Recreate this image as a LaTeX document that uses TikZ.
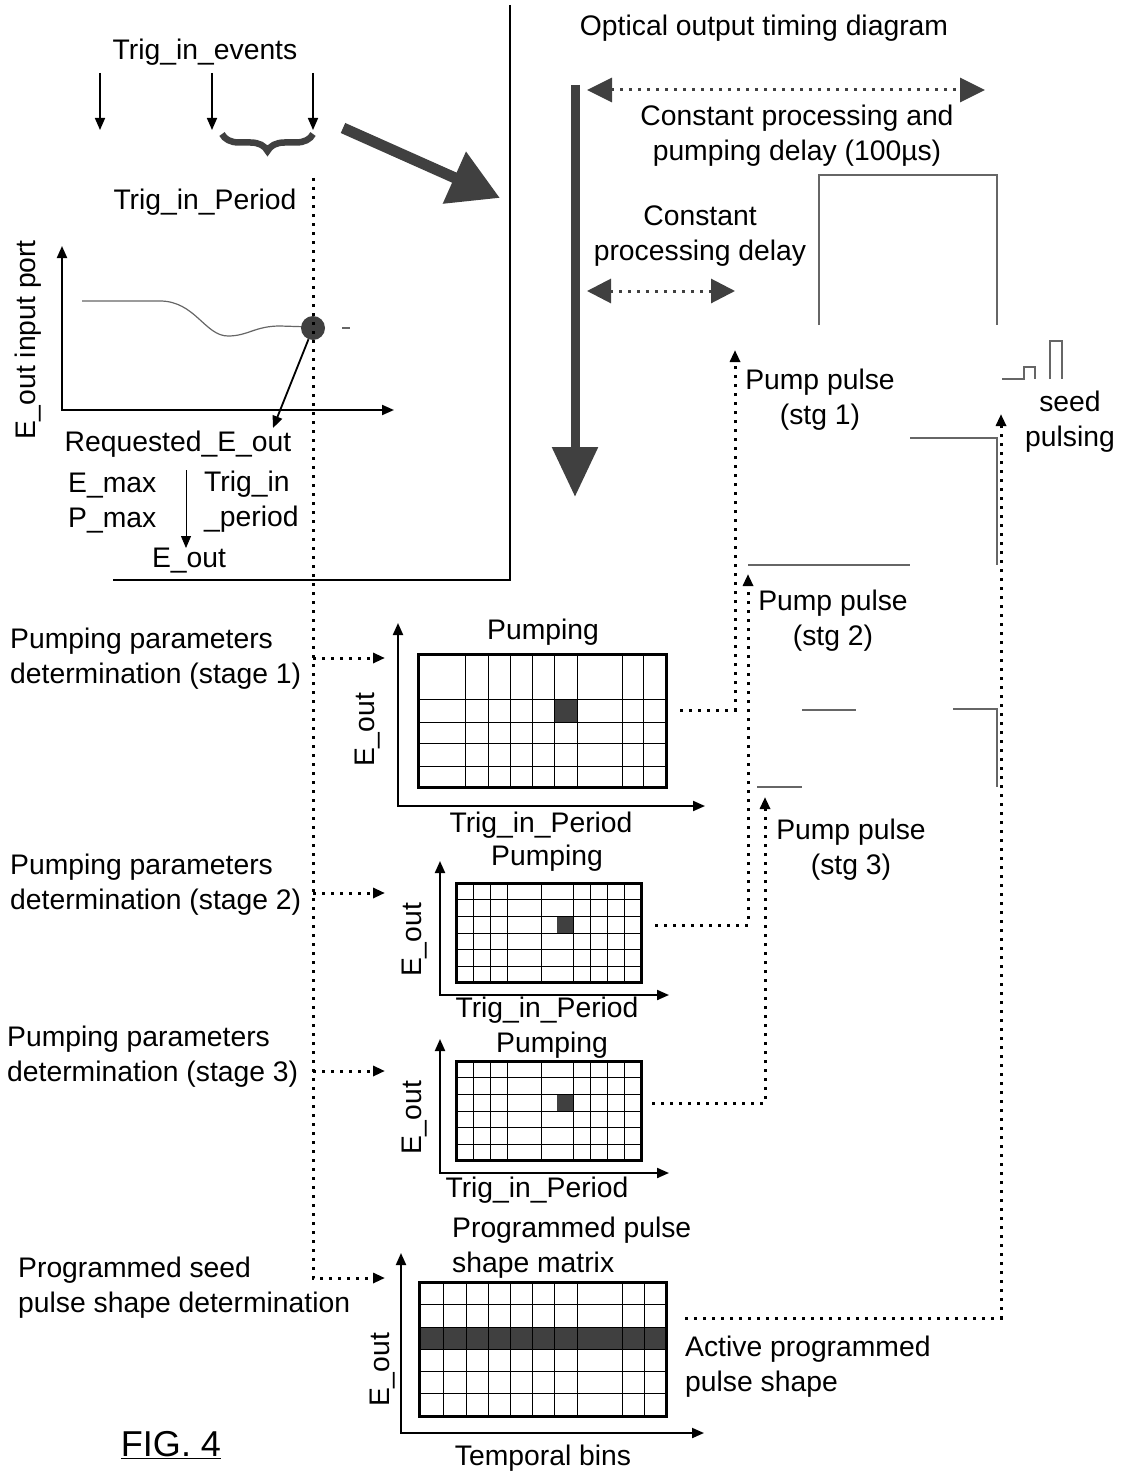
\documentclass[tikz,border=0pt]{standalone}
\usepackage{fontspec}
\setmainfont{Liberation Sans}
\usetikzlibrary{arrows.meta,decorations.pathreplacing}
\tikzset{
  txt/.style={font=\fontsize{28.3}{35}\selectfont, inner sep=0pt, align=center},
  txtl/.style={txt, align=left, anchor=west},
  dots/.style={line width=3pt, dash pattern=on 3pt off 6pt},
  wave/.style={black!60, line width=1.2pt},
  heavy/.style={black!75},
  axis/.style={line width=2pt, <->},
  gridline/.style={line width=0.9pt},
  border/.style={line width=3pt},
}
\begin{document}
\begin{tikzpicture}[x=1pt, y=-1pt, >={Triangle[length=12pt,width=10pt]}]
\useasboundingbox (0,0) rectangle (1124,1474);
% left frame
\coordinate (fTop) at (510,5); \coordinate (fCorner) at (510,580); \coordinate (fLeft) at (113,580);
\draw[line width=2pt] (fTop) -- (fCorner) -- (fLeft);

% trigger events
\node[txt] (events) at (205,52) {Trig\_in\_events};
\foreach \x/\n in {100/a,212/b,313/c} {
  \coordinate (ev\n) at (\x,73); \coordinate (evEnd\n) at (\x,130);
  \draw[->, line width=1.6pt] (ev\n) -- (evEnd\n);
}
\coordinate (brL) at (222,134); \coordinate (brR) at (313,134);
\draw[heavy, line width=6.5pt, decorate, decoration={brace, mirror, amplitude=17pt}] (brL) -- (brR);
\node[txt] (period) at (205,202) {Trig\_in\_Period};
\coordinate (bigA) at (343,128); \coordinate (bigB) at (500,198);
\draw[heavy, line width=11pt, -{Triangle[length=50pt,width=54pt]}] (bigA) -- (bigB);

% E_out graph
\coordinate (gO) at (62,410); \coordinate (gY) at (62,246); \coordinate (gX) at (394,410);
\draw[axis] (gY) -- (gO) -- (gX);
\node[txt, rotate=90] (portlbl) at (28,340) {E\_out input port};
\draw[wave] (82,301) -- (160,301) .. controls (195,301) and (205,336) .. (228,336)
  .. controls (248,336) and (255,326) .. (280,326) -- (312,327);
\draw[wave] (342,328) -- (350,328);
\node[circle, fill=black!75, minimum size=24pt, inner sep=0pt] (dot) at (313,328) {};
\coordinate (reqTip) at (273,428);
\draw[->, line width=1.8pt] (dot) -- (reqTip);
\node[txt] (req) at (178,444) {Requested\_E\_out};
\node[txtl] (emax) at (68,503) {E\_max\\P\_max};
\node[txtl] (trig) at (204,502) {Trig\_in\\\_period};
\coordinate (calcA) at (186,470); \coordinate (calcB) at (186,548);
\draw[->, line width=0.8pt] (calcA) -- (calcB);
\node[txt] (eout) at (189,561) {E\_out};

% main dotted feed line
\coordinate (vTop) at (313,178); \coordinate (vBot) at (313,1278);
\foreach \y/\n in {658/1,893/2,1071/3} {
  \coordinate (src\n) at (313,\y); \coordinate (in\n) at (385,\y);
  \draw[dots, ->] (src\n) -- (in\n);
}
\coordinate (in4) at (385,1278);
\draw[dots, ->] (vTop) -- (vBot) -- (in4);
\node[txtl] (stage1) at (10,659) {Pumping parameters\\determination (stage 1)};
\node[txtl] (stage2) at (10,885) {Pumping parameters\\determination (stage 2)};
\node[txtl] (stage3) at (7,1057) {Pumping parameters\\determination (stage 3)};
\node[txtl] (seedlbl) at (18,1288) {Programmed seed\\pulse shape determination};

% timing diagram
\node[txt] (title) at (764,28) {Optical output timing diagram};
\coordinate (tA) at (575,85); \coordinate (tB) at (575,497);
\draw[heavy, line width=9pt, -{Triangle[length=50pt,width=44pt]}] (tA) -- (tB);
\coordinate (dA) at (587,90); \coordinate (dB) at (985,90);
\draw[dots, heavy, {Triangle[length=25pt,width=24pt]}-{Triangle[length=25pt,width=24pt]}] (dA) -- (dB);
\node[txt] (delay1) at (797,136) {Constant processing and\\pumping delay (100µs)};
\node[txt] (delay2) at (700,236) {Constant\\processing delay};
\coordinate (pA) at (587,291); \coordinate (pB) at (735,291);
\draw[dots, heavy, {Triangle[length=24pt,width=24pt]}-{Triangle[length=24pt,width=24pt]}] (pA) -- (pB);

% waveforms
\draw[wave] (819,325) -- (819,175) -- (997,175) -- (997,325);
\draw[wave] (1002,379) -- (1024,379) -- (1024,367) -- (1035,367) -- (1035,379);
\draw[wave] (1050,379) -- (1050,341) -- (1062,341) -- (1062,379);
\draw[wave] (910,438) -- (997,438) -- (997,565);
\draw[wave] (748,565) -- (910,565);
\draw[wave] (802,710) -- (856,710);
\draw[wave] (953,709) -- (997,709) -- (997,787);
\draw[wave] (757,787) -- (802,787);
\node[txt] (seed) at (1070,422) {seed\\pulsing};
\node[txt] (pump1) at (820,400) {Pump pulse\\(stg 1)};
\node[txt] (pump2) at (833,621) {Pump pulse\\(stg 2)};
\node[txt] (pump3) at (851,850) {Pump pulse\\(stg 3)};

% pump pulse feeds
\coordinate (o1) at (680,710); \coordinate (c1) at (735,710); \coordinate (t1) at (735,350);
\coordinate (o2) at (655,925); \coordinate (c2) at (748,925); \coordinate (t2) at (748,574);
\coordinate (o3) at (652,1103); \coordinate (c3) at (765,1103); \coordinate (t3) at (765,797);
\coordinate (o4) at (685,1318); \coordinate (c4) at (1001,1318); \coordinate (t4) at (1001,414);
\foreach \n in {1,2,3,4} \draw[dots, ->] (o\n) -- (c\n) -- (t\n);

% matrix 1
\draw[axis] (398,623) -- (398,806) -- (705,806);
\fill[heavy] (554,699) rectangle (577,722);
\foreach \x in {465,488,510,532,554,577,622,643} \draw[gridline] (\x,654) -- (\x,787);
\foreach \y in {699,722,743,766} \draw[gridline] (418,\y) -- (666,\y);
\draw[border] (418,654) rectangle (666,787);
\node[txt] (pump1m) at (543,632) {Pumping};
\node[txt] (per1) at (541,825) {Trig\_in\_Period};
\node[txt, rotate=90] (e1) at (368,730) {E\_out};

% matrix 2 and 3
\foreach \s/\n in {0/2,178/3} {
  \draw[axis] (440,861+\s) -- (440,995+\s) -- (669,995+\s);
  \fill[heavy] (557,916+\s) rectangle (574,933+\s);
  \foreach \x in {473,490,507,541,573,590,607,624} \draw[gridline] (\x,883+\s) -- (\x,982+\s);
  \foreach \y in {899,916,933,949,966} \draw[gridline] (456,\y+\s) -- (641,\y+\s);
  \draw[border] (456,883+\s) rectangle (641,982+\s);
  \node[txt, rotate=90] (e\n) at (415,940+\s) {E\_out};
}
\node[txt] (pump2m) at (547,858) {Pumping};
\node[txt] (per2) at (547,1010) {Trig\_in\_Period};
\node[txt] (pump3m) at (552,1045) {Pumping};
\node[txt] (per3) at (537,1190) {Trig\_in\_Period};

% pulse shape matrix
\draw[axis] (401,1253) -- (401,1433) -- (704,1433);
\fill[heavy] (419,1327) rectangle (666,1349);
\foreach \x in {443,466,488,510,532,554,577,622,644} \draw[gridline] (\x,1282) -- (\x,1416);
\foreach \y in {1304,1327,1349,1371,1393} \draw[gridline] (419,\y) -- (666,\y);
\draw[border] (419,1282) rectangle (666,1416);
\node[txtl] (shape) at (452,1248) {Programmed pulse\\shape matrix};
\node[txtl] (active) at (685,1367) {Active programmed\\pulse shape};
\node[txt] (bins) at (543,1458) {Temporal bins};
\node[txt, rotate=90] (e4) at (383,1370) {E\_out};
\node[txt, font=\fontsize{36}{40}\selectfont] (fig) at (171,1445) {\underline{FIG. 4}};
\end{tikzpicture}
\end{document}
